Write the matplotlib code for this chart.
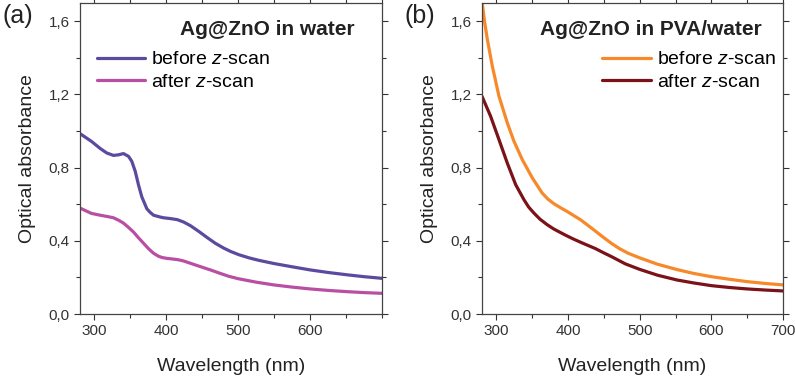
import numpy as np
import matplotlib.pyplot as plt
from matplotlib.ticker import MultipleLocator, FuncFormatter

plt.rcParams['font.family'] = ['Liberation Sans', 'DejaVu Sans']
plt.rcParams['mathtext.fontset'] = 'custom'
plt.rcParams['mathtext.it'] = 'Liberation Sans:italic'
plt.rcParams['mathtext.rm'] = 'Liberation Sans'

# (a) Ag@ZnO in water
wl_a_before = [280, 295.8, 308, 317.3, 326.5, 333.5, 340.4, 347.4, 352, 356.8, 361.4, 366, 373, 377.7, 382.3, 391.6, 396.2, 405, 415, 424, 433.5, 445, 456.8, 468, 480, 490, 501, 515, 528, 549.6, 575, 600, 625, 652, 675, 700]
abs_a_before = [0.986, 0.944, 0.905, 0.880, 0.867, 0.870, 0.877, 0.862, 0.835, 0.78, 0.705, 0.64, 0.575, 0.555, 0.540, 0.530, 0.526, 0.522, 0.516, 0.503, 0.483, 0.452, 0.418, 0.387, 0.360, 0.341, 0.324, 0.307, 0.294, 0.276, 0.258, 0.241, 0.227, 0.214, 0.204, 0.195]
wl_a_after = [280, 295.8, 308, 318, 326.5, 334, 340.4, 347, 354.4, 361, 368.3, 375, 382.3, 389, 394, 401, 408, 416, 424, 433, 442.8, 452, 461.3, 475, 487, 500, 525, 549.6, 575, 600, 625, 652, 675, 700]
abs_a_after = [0.579, 0.550, 0.540, 0.533, 0.526, 0.512, 0.497, 0.475, 0.448, 0.418, 0.387, 0.358, 0.332, 0.316, 0.309, 0.304, 0.301, 0.297, 0.290, 0.278, 0.265, 0.253, 0.241, 0.222, 0.206, 0.193, 0.174, 0.159, 0.147, 0.137, 0.129, 0.122, 0.117, 0.113]

# (b) Ag@ZnO in PVA/water
wl_b_before = [280, 283.5, 287.5, 294.4, 303.7, 315.3, 324.5, 336.2, 350.2, 364, 372, 380.3, 390, 399, 408, 417.5, 426, 436, 448, 461, 472, 484, 500, 525, 552, 575, 600, 625, 650, 675, 700]
abs_b_before = [1.71, 1.60, 1.50, 1.355, 1.19, 1.045, 0.945, 0.844, 0.744, 0.661, 0.628, 0.603, 0.580, 0.560, 0.538, 0.515, 0.490, 0.460, 0.423, 0.385, 0.357, 0.332, 0.307, 0.272, 0.243, 0.222, 0.204, 0.19, 0.177, 0.167, 0.159]
wl_b_after = [280, 292, 303.7, 315.3, 327, 338.5, 345, 352.4, 361, 371, 380, 389.6, 398, 408, 420, 438, 450, 461, 480, 500, 525, 552, 575, 600, 625, 650, 675, 700]
abs_b_after = [1.19, 1.081, 0.953, 0.825, 0.707, 0.625, 0.585, 0.552, 0.518, 0.488, 0.465, 0.445, 0.428, 0.409, 0.388, 0.358, 0.334, 0.313, 0.274, 0.244, 0.212, 0.186, 0.170, 0.155, 0.145, 0.137, 0.131, 0.126]

fig = plt.figure(figsize=(7.95, 3.81), dpi=100)
W, H = 795, 381

comma = FuncFormatter(lambda v, p: f'{v:.1f}'.replace('.', ','))


def style_axes(ax, xticks):
    ax.set_xlim(280, 700)
    ax.set_ylim(0, 1.70)
    ax.set_xticks(xticks)
    ax.xaxis.set_minor_locator(MultipleLocator(50))
    ax.yaxis.set_major_locator(MultipleLocator(0.4))
    ax.yaxis.set_minor_locator(MultipleLocator(0.2))
    ax.yaxis.set_major_formatter(comma)
    ax.tick_params(which='both', direction='out', top=True, right=True,
                   labelsize=11, colors='#333333', width=0.8)
    ax.tick_params(which='major', length=4)
    ax.tick_params(which='minor', length=3)
    for s in ax.spines.values():
        s.set_color('#444444')
        s.set_linewidth(0.9)


line_kw = dict(lw=2.3, solid_joinstyle='round', solid_capstyle='round')

ax1 = fig.add_axes([80 / W, 67 / H, 302 / W, 311 / H])
l1, = ax1.plot(wl_a_before, abs_a_before, color='#5b4a9e', **line_kw)
l2, = ax1.plot(wl_a_after, abs_a_after, color='#b94fa3', **line_kw)
style_axes(ax1, [300, 400, 500, 600])
ax1.text(0.62, 0.915, 'Ag@ZnO in water', transform=ax1.transAxes, ha='center',
         va='center', fontsize=15, fontweight='bold', color='#222222')
ax1.legend([l1, l2], ['before $z$-scan', 'after $z$-scan'], loc='upper left',
           bbox_to_anchor=(0.01, 0.89), frameon=False, fontsize=14,
           handlelength=2.5, handletextpad=0.3, labelspacing=0.25, borderpad=0.2)

ax2 = fig.add_axes([482 / W, 67 / H, 301 / W, 311 / H])
l3, = ax2.plot(wl_b_before, abs_b_before, color='#f7892a', **line_kw)
l4, = ax2.plot(wl_b_after, abs_b_after, color='#7a1218', **line_kw)
style_axes(ax2, [300, 400, 500, 600, 700])
ax2.text(0.56, 0.915, 'Ag@ZnO in PVA/water', transform=ax2.transAxes, ha='center',
         va='center', fontsize=15, fontweight='bold', color='#222222')
ax2.legend([l3, l4], ['before $z$-scan', 'after $z$-scan'], loc='upper left',
           bbox_to_anchor=(0.355, 0.89), frameon=False, fontsize=14,
           handlelength=2.5, handletextpad=0.3, labelspacing=0.25, borderpad=0.2)

for ax, lab, lx in [(ax1, '(a)', 3), (ax2, '(b)', 404)]:
    ax.set_xlabel('Wavelength (nm)', fontsize=14, color='#222222', labelpad=14)
    ax.set_ylabel('Optical absorbance', fontsize=14, color='#222222', labelpad=9)
    fig.text(lx / W, 1 - 16 / H, lab, fontsize=18, color='#222222', va='center')

plt.savefig('out.png', dpi=100)
